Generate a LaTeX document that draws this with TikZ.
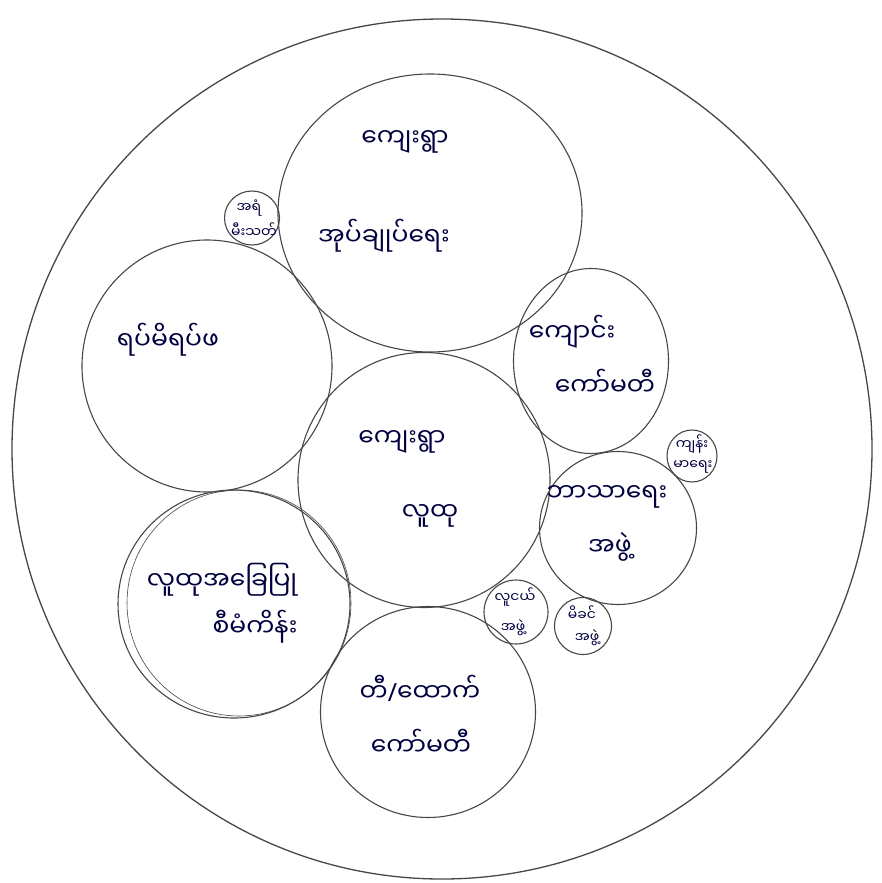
\documentclass[tikz,border=0pt]{standalone}
\usepackage{fontspec}
\newfontfamily\mm[Script=Myanmar]{Noto Sans Myanmar UI}
\newfontfamily\lat{Noto Sans}
\usetikzlibrary{shapes.geometric}
\begin{document}
\begin{tikzpicture}[x=1pt,y=-1pt,
  ring/.style={draw=black!72, line width=1.1pt, ellipse, inner sep=0pt},
  biglbl/.style={font=\mm\fontsize{25}{30}\selectfont, text=blue!25!black, inner sep=1pt},
  smalllbl/.style={font=\mm\fontsize{14}{16}\selectfont, text=blue!25!black, inner sep=1pt}]
\useasboundingbox (0,0) rectangle (882,883);
\fill[white] (0,0) rectangle (882,883);
% rings
\node[ring, line width=1.3pt, minimum width=860pt, minimum height=860pt] (outer) at (442,449) {};
\node[ring, minimum width=304pt, minimum height=278pt] (admin) at (430,213) {};
\node[ring, minimum width=55pt, minimum height=54pt] (fire) at (252,218) {};
\node[ring, minimum width=250pt, minimum height=252pt] (elders) at (207,366) {};
\node[ring, minimum width=155pt, minimum height=185pt] (school) at (591,361) {};
\node[ring, minimum width=50pt, minimum height=52pt] (health) at (692,456) {};
\node[ring, minimum width=252pt, minimum height=255pt] (people) at (424,480) {};
\node[ring, minimum width=157pt, minimum height=153pt] (relig) at (618,528) {};
\node[ring, minimum width=232pt, minimum height=228pt] (cbp) at (234,604) {};
\node[ring, line width=0.6pt, minimum width=224pt, minimum height=226pt] (cbpb) at (239,603) {};
\node[ring, minimum width=64pt, minimum height=64pt] (youth) at (516,612) {};
\node[ring, minimum width=57pt, minimum height=57pt] (mother) at (583,626) {};
\node[ring, minimum width=215pt, minimum height=211pt] (supp) at (428,712) {};
% labels
\node[biglbl] (t1a) at (405,142) {ကျေးရွာ};
\node[biglbl] (t1b) at (384,236) {အုပ်ချုပ်ရေး};
\node[smalllbl] (t2a) at (249,208) {အရံ};
\node[smalllbl] (t2b) at (254,230) {မီးသတ်};
\node[biglbl] (t3) at (168,340) {ရပ်မိရပ်ဖ};
\node[biglbl] (t4a) at (572,332) {ကျောင်း};
\node[biglbl] (t4b) at (605,382) {ကော်မတီ};
\node[smalllbl] (t5a) at (692,444) {ကျန်း};
\node[smalllbl] (t5b) at (693,467) {မာရေး};
\node[biglbl] (t6a) at (402,442) {ကျေးရွာ};
\node[biglbl] (t6b) at (430,516) {လူထု};
\node[biglbl] (t7a) at (607,497) {ဘာသာရေး};
\node[biglbl] (t7b) at (610,547) {အဖွဲ့};
\node[biglbl] (t8a) at (222,580) {လူထုအခြေပြု};
\node[biglbl] (t8b) at (255,627) {စီမံကိန်း};
\node[smalllbl] (t9a) at (515,597) {လူငယ်};
\node[smalllbl] (t9b) at (513,628) {အဖွဲ့};
\node[smalllbl] (t10a) at (582,613) {မိခင်};
\node[smalllbl] (t10b) at (587,638) {အဖွဲ့};
\node[biglbl] (t11a) at (420,688) {တီ{\lat /}ထောက်};
\node[biglbl] (t11b) at (421,742) {ကော်မတီ};
\end{tikzpicture}
\end{document}
